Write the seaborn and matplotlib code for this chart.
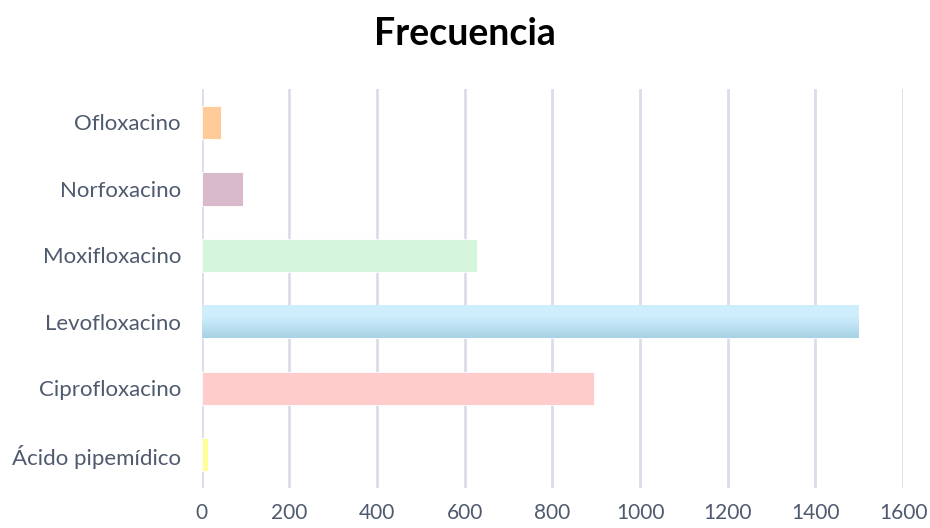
import numpy as np
import pandas as pd
import matplotlib
matplotlib.use("Agg")
import matplotlib.pyplot as plt
import seaborn as sns

# Data
farmacos = ["Ofloxacino", "Norfoxacino", "Moxifloxacino", "Levofloxacino",
            "Ciprofloxacino", "Ácido pipemídico"]
frecuencia = [44, 93, 627, 1497, 896, 14]
colores = ["#ffcc99", "#d9bacd", "#d5f6db", "#cdedfd", "#ffcccc", "#ffff99"]
xticks = [0, 200, 400, 600, 800, 1000, 1200, 1400, 1600]

df = pd.DataFrame({"farmaco": farmacos, "frecuencia": frecuencia})

sns.set_theme(style="white")
plt.rcParams["font.family"] = ["Lato", "DejaVu Sans"]

fig = plt.figure(figsize=(9.3, 5.28), dpi=100)
ax = fig.add_axes([0.217, 0.076, 0.754, 0.755])

sns.barplot(data=df, y="farmaco", x="frecuencia", hue="farmaco",
            palette=colores, orient="h", width=0.5, legend=False, ax=ax,
            saturation=1, edgecolor="white", linewidth=0.6, zorder=3)

# Soft vertical gradient on the Levofloxacino bar (light on top, darker below)
i_levo = farmacos.index("Levofloxacino")
patch = ax.patches[i_levo]
x0, y0 = patch.get_x(), patch.get_y()
w, h = patch.get_width(), patch.get_height()
top = np.array(matplotlib.colors.to_rgb("#cfeefd"))
bottom = np.array(matplotlib.colors.to_rgb("#a8d2e5"))
t = np.linspace(0, 1, 64)
t = np.clip((t - 0.35) / 0.65, 0, 1)[:, None]
grad = (top * (1 - t) + bottom * t)[:, None, :]
# y axis is inverted, so the first image row sits at the smaller y value
img = ax.imshow(grad, extent=(x0, x0 + w, y0 + h, y0), aspect="auto",
                origin="upper", zorder=3.5, interpolation="bilinear")
img.set_clip_path(patch)

ax.set_xlim(0, 1600)
ax.set_ylim(5.5, -0.5)
ax.set_xticks(xticks)
ax.set_xticklabels([str(v) for v in xticks])
ax.set_xlabel("")
ax.set_ylabel("")
ax.grid(axis="x", color="#dadde9", linewidth=2, zorder=0)
ax.grid(axis="y", visible=False)
for s in ax.spines.values():
    s.set_visible(False)
ax.tick_params(axis="both", length=0, labelcolor="#4f5a6e")
ax.tick_params(axis="x", labelsize=15, pad=11)
ax.tick_params(axis="y", labelsize=16, pad=15)

fig.text(0.5, 0.935, "Frecuencia", ha="center", va="center",
         fontsize=27, fontweight="bold", color="#000000")

fig.savefig("out.png", dpi=100, facecolor="white")
